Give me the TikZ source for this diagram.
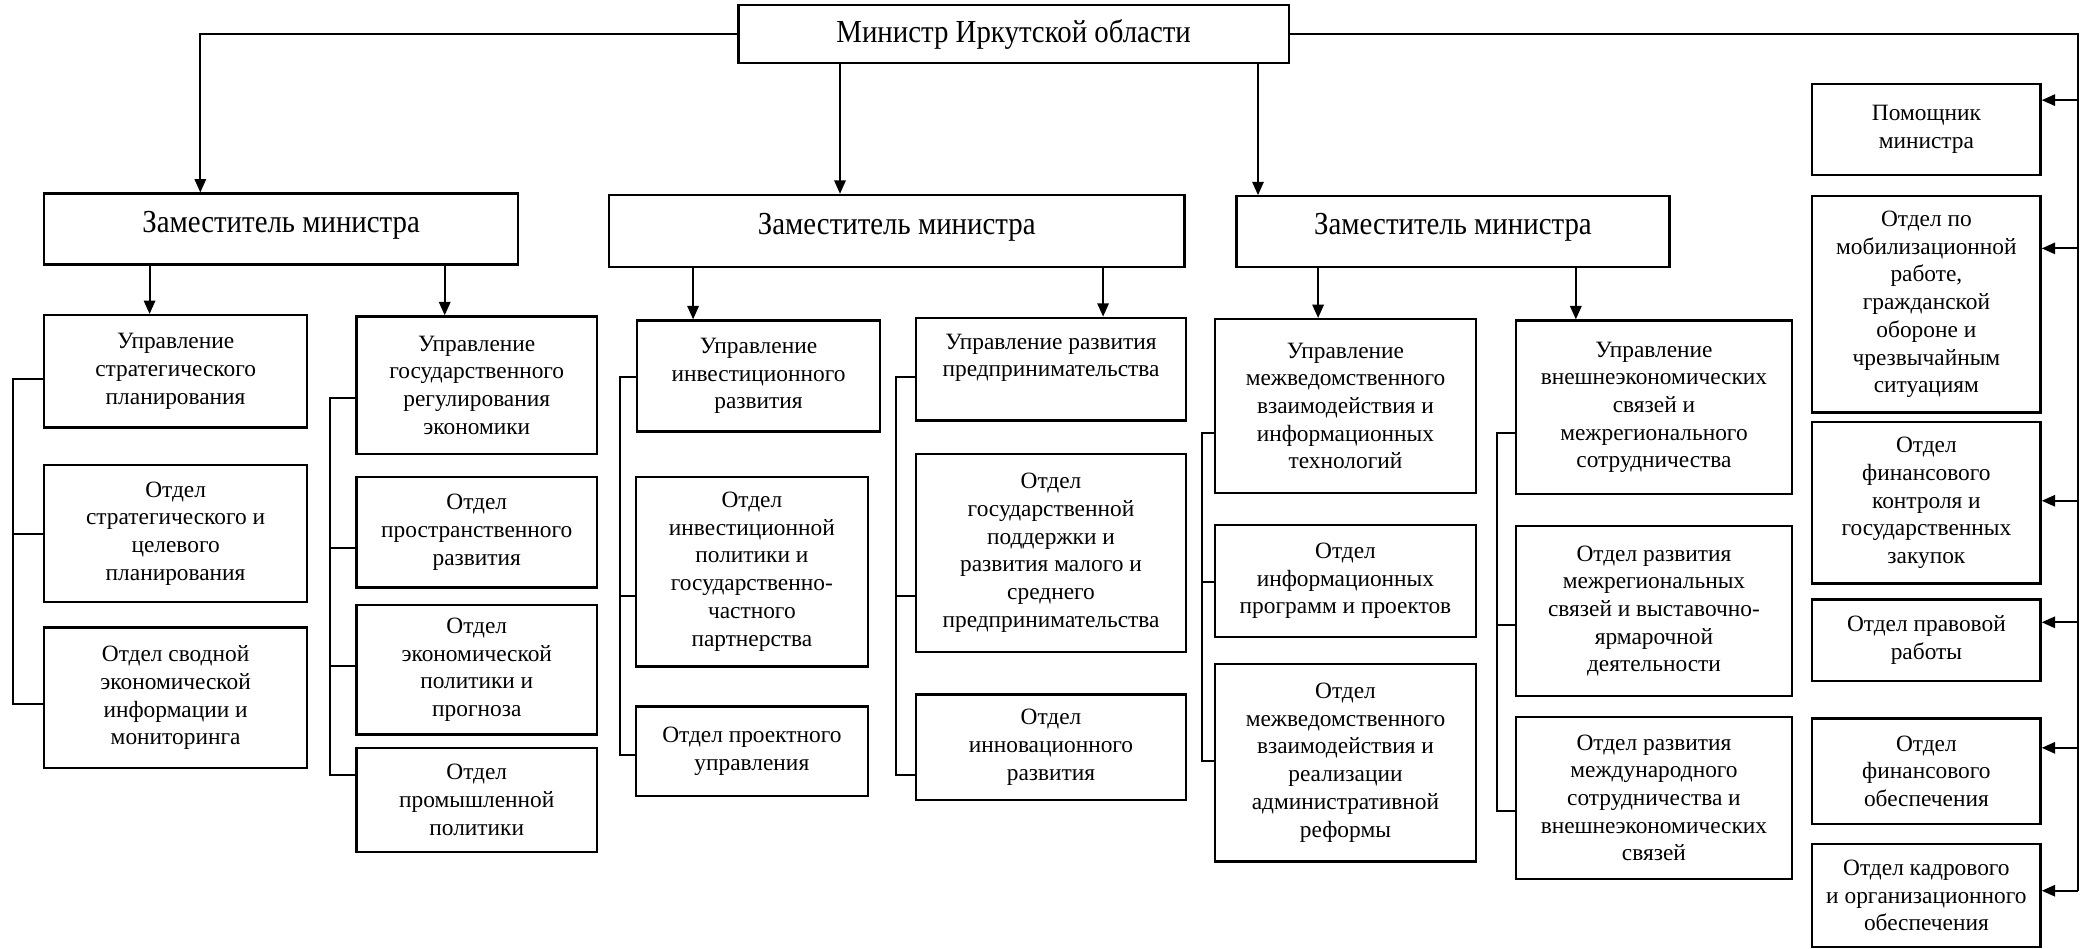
\documentclass[tikz,border=0pt]{standalone}
\usepackage{fontspec}
\setmainfont{Liberation Serif}
\newfontfamily\hdrfont[FakeStretch=0.9]{Liberation Serif}
\usetikzlibrary{arrows.meta}
\newcommand\bx[7][box]{%
  \pgfmathsetmacro\bxw{(#5-#3)*0.4}%
  \pgfmathsetmacro\bxh{(#6-#4)*0.4}%
  \node[#1, minimum width=\bxw pt, minimum height=\bxh pt] (#2) at ({(#3+#5)/2},{(#4+#6)/2}) {#7};}
\begin{document}
\begin{tikzpicture}[x=0.4pt,y=-0.4pt,
  box/.style={draw, line width=0.7pt, inner sep=0pt, align=center, font=\fontsize{7}{8.3}\selectfont},
  hdr/.style={box, font=\hdrfont\fontsize{9.6}{11}\selectfont},
  dep/.style={hdr, text depth=4.4pt},
  arr/.style={-{Triangle[length=4pt,width=3.4pt]}, line width=0.6pt},
  ln/.style={line width=0.6pt}]
\useasboundingbox (0,0) rectangle (1568,710);

% top level
\bx[hdr]{min}{553}{4}{965}{47}{Министр Иркутской области}
\bx[dep]{z1}{33}{145}{388}{198}{Заместитель министра}
\bx[dep]{z2}{456}{146}{887}{200}{Заместитель министра}
\bx[dep]{z3}{926}{147}{1250}{200}{Заместитель министра}

% column a
\bx{a1}{33}{236}{230}{320}{Управление\\стратегического\\планирования}
\bx{a2}{33}{348}{230}{451}{Отдел\\стратегического и\\целевого\\планирования}
\bx{a3}{33}{470}{230}{575}{Отдел сводной\\экономической\\информации и\\мониторинга}
% column b
\bx{b1}{267}{237}{447}{340}{Управление\\государственного\\регулирования\\экономики}
\bx{b2}{267}{357}{447}{440}{Отдел\\пространственного\\развития}
\bx{b3}{267}{453}{447}{550}{Отдел\\экономической\\политики и\\прогноза}
\bx{b4}{267}{560}{447}{638}{Отдел\\промышленной\\политики}
% column c
\bx{c1}{477}{240}{659}{323}{Управление\\инвестиционного\\развития}
\bx{c2}{476}{357}{650}{499}{Отдел\\инвестиционной\\политики и\\государственно-\\частного\\партнерства}
\bx{c3}{476}{529}{650}{596}{Отдел проектного\\управления}
% column d
\bx{d1}{686}{238}{888}{315}{Управление развития\\предпринимательства\\[0pt]}
\bx{d2}{686}{340}{888}{488}{Отдел\\государственной\\поддержки и\\развития малого и\\среднего\\предпринимательства}
\bx{d3}{686}{520}{888}{599}{Отдел\\инновационного\\развития}
% column e
\bx{e1}{910}{239}{1105}{369}{Управление\\межведомственного\\взаимодействия и\\информационных\\технологий}
\bx{e2}{910}{393}{1105}{477}{Отдел\\информационных\\программ и проектов}
\bx{e3}{910}{497}{1105}{645}{Отдел\\межведомственного\\взаимодействия и\\реализации\\административной\\реформы}
% column f
\bx{f1}{1135}{240}{1342}{370}{Управление\\внешнеэкономических\\связей и\\межрегионального\\сотрудничества}
\bx{f2}{1135}{394}{1342}{521}{Отдел развития\\межрегиональных\\связей и выставочно-\\ярмарочной\\деятельности}
\bx{f3}{1135}{537}{1342}{658}{Отдел развития\\международного\\сотрудничества и\\внешнеэкономических\\связей}
% right column
\bx{r1}{1357}{63}{1528}{131}{Помощник\\министра}
\bx{r2}{1357}{147}{1528}{309}{Отдел по\\мобилизационной\\работе,\\гражданской\\обороне и\\чрезвычайным\\ситуациям}
\bx{r3}{1357}{316}{1528}{437}{Отдел\\финансового\\контроля и\\государственных\\закупок}
\bx{r4}{1357}{449}{1528}{510}{Отдел правовой\\работы}
\bx{r5}{1357}{538}{1528}{617}{Отдел\\финансового\\обеспечения}
\bx{r6}{1357}{632}{1528}{709}{Отдел кадрового\\и организационного\\обеспечения}

% minister to deputies
\draw[arr] (min.west) -| (150,0 |- z1.north);
\draw[arr] (min.south -| 629,0) -- (629,0 |- z2.north);
\draw[arr] (min.south -| 942,0) -- (942,0 |- z3.north);

% deputies to departments
\draw[arr] (z1.south -| 112,0) -- (112,0 |- a1.north);
\draw[arr] (z1.south -| 333,0) -- (333,0 |- b1.north);
\draw[arr] (z2.south -| 519,0) -- (519,0 |- c1.north);
\draw[arr] (z2.south -| 826,0) -- (826,0 |- d1.north);
\draw[arr] (z3.south -| 987,0) -- (987,0 |- e1.north);
\draw[arr] (z3.south -| 1180,0) -- (1180,0 |- f1.north);

% brackets
\draw[ln] (a1.west |- 0,284) -- (10,284) |- (a3.west |- 0,527);
\draw[ln] (10,400) -- (a2.west |- 0,400);
\draw[ln] (b1.west |- 0,298) -- (247,298) |- (b4.west |- 0,580);
\draw[ln] (247,410) -- (b2.west |- 0,410);
\draw[ln] (247,499) -- (b3.west |- 0,499);
\draw[ln] (c1.west |- 0,282) -- (464,282) |- (c3.west |- 0,565);
\draw[ln] (464,446) -- (c2.west |- 0,446);
\draw[ln] (d1.west |- 0,282) -- (671,282) |- (d3.west |- 0,580);
\draw[ln] (671,446) -- (d2.west |- 0,446);
\draw[ln] (e1.west |- 0,324) -- (900,324) |- (e3.west |- 0,570);
\draw[ln] (900,436) -- (e2.west |- 0,436);
\draw[ln] (f1.west |- 0,324) -- (1121,324) |- (f3.west |- 0,607);
\draw[ln] (1121,468) -- (f2.west |- 0,468);

% right spine
\draw[ln] (min.east) -- (1556,0 |- min.east) -- (1556,667);
\draw[arr] (1556,75) -- (r1.east |- 0,75);
\draw[arr] (1556,186) -- (r2.east |- 0,186);
\draw[arr] (1556,375) -- (r3.east |- 0,375);
\draw[arr] (1556,466) -- (r4.east |- 0,466);
\draw[arr] (1556,560) -- (r5.east |- 0,560);
\draw[arr] (1556,667) -- (r6.east |- 0,667);
\end{tikzpicture}
\end{document}
